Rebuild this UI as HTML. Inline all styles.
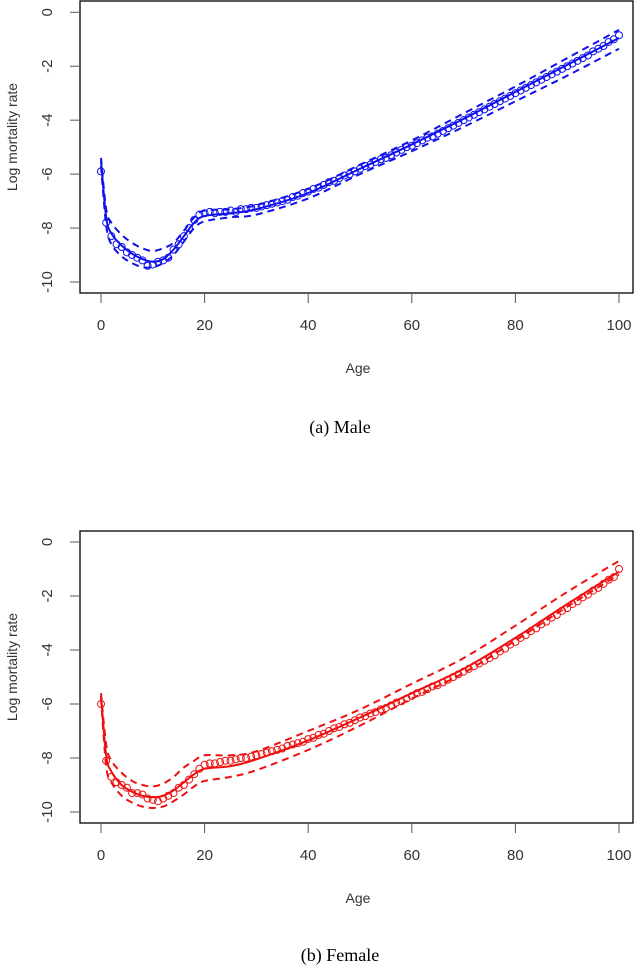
<!DOCTYPE html>
<html><head><meta charset="utf-8"><style>
body{margin:0;background:#fff;}
svg{display:block;font-family:"Liberation Sans",sans-serif;}
</style></head><body>
<svg id="s" width="640" height="967" viewBox="0 0 640 967"></svg>
<script>
const ages = Array.from({length:101},(_,i)=>i);
const maleObs = [-5.9,-7.8,-8.3,-8.6,-8.7,-8.9,-9.0,-9.1,-9.2,-9.4,-9.35,-9.25,-9.2,-9.1,-8.8,-8.6,-8.3,-8.0,-7.7,-7.5,-7.45,-7.4,-7.45,-7.4,-7.4,-7.35,-7.4,-7.3,-7.3,-7.25,-7.25,-7.2,-7.15,-7.1,-7.05,-7.0,-6.95,-6.85,-6.8,-6.7,-6.65,-6.55,-6.5,-6.4,-6.3,-6.25,-6.15,-6.05,-6.0,-5.9,-5.8,-5.7,-5.65,-5.55,-5.45,-5.4,-5.3,-5.2,-5.1,-5.0,-4.95,-4.85,-4.75,-4.65,-4.6,-4.5,-4.4,-4.3,-4.2,-4.1,-4.0,-3.9,-3.8,-3.7,-3.6,-3.5,-3.4,-3.3,-3.2,-3.1,-3.0,-2.9,-2.8,-2.7,-2.6,-2.5,-2.4,-2.3,-2.2,-2.1,-2.0,-1.9,-1.8,-1.7,-1.6,-1.45,-1.35,-1.25,-1.1,-1.0,-0.85];
const femaleObs = [-6.0,-8.1,-8.7,-8.9,-9.0,-9.1,-9.3,-9.3,-9.35,-9.5,-9.55,-9.6,-9.5,-9.4,-9.3,-9.1,-9.0,-8.8,-8.6,-8.4,-8.25,-8.2,-8.2,-8.15,-8.1,-8.1,-8.05,-8.0,-8.0,-7.95,-7.9,-7.85,-7.8,-7.75,-7.7,-7.65,-7.55,-7.5,-7.45,-7.4,-7.3,-7.25,-7.15,-7.1,-7.0,-6.9,-6.85,-6.75,-6.7,-6.6,-6.5,-6.45,-6.35,-6.3,-6.2,-6.15,-6.05,-5.95,-5.9,-5.8,-5.7,-5.6,-5.55,-5.45,-5.35,-5.3,-5.2,-5.1,-5.0,-4.9,-4.8,-4.7,-4.6,-4.5,-4.4,-4.3,-4.2,-4.05,-3.95,-3.8,-3.7,-3.55,-3.45,-3.3,-3.2,-3.05,-2.95,-2.8,-2.7,-2.55,-2.45,-2.3,-2.2,-2.05,-1.95,-1.8,-1.7,-1.55,-1.4,-1.3,-1.0];
const knotAges = [0,1,2,4,6,8,10,12,14,16,18,20,25,30,40,50,60,70,80,90,100];
const maleFit   = [-5.5,-7.6,-8.2,-8.65,-8.95,-9.15,-9.25,-9.15,-8.8,-8.3,-7.8,-7.55,-7.45,-7.3,-6.7,-5.8,-4.9,-3.95,-2.95,-1.95,-0.95];
const maleUpper = [-5.4,-7.3,-7.8,-8.25,-8.55,-8.75,-8.85,-8.75,-8.55,-8.1,-7.6,-7.35,-7.3,-7.15,-6.55,-5.65,-4.75,-3.75,-2.75,-1.7,-0.65];
const maleLower = [-5.7,-7.9,-8.6,-9.05,-9.3,-9.45,-9.45,-9.3,-9.0,-8.5,-8.0,-7.75,-7.6,-7.5,-6.9,-6.0,-5.15,-4.25,-3.3,-2.35,-1.35];
const femaleFit   = [-5.7,-7.9,-8.5,-9.0,-9.25,-9.4,-9.45,-9.4,-9.2,-8.9,-8.6,-8.4,-8.3,-8.05,-7.35,-6.5,-5.6,-4.7,-3.55,-2.3,-1.1];
const femaleUpper = [-5.6,-7.5,-8.1,-8.55,-8.85,-9.0,-9.05,-8.95,-8.7,-8.35,-8.1,-7.9,-7.9,-7.75,-7.0,-6.2,-5.25,-4.3,-3.1,-1.85,-0.7];
const femaleLower = [-5.8,-8.3,-8.9,-9.4,-9.65,-9.8,-9.85,-9.8,-9.6,-9.35,-9.05,-8.85,-8.7,-8.45,-7.7,-6.8,-5.8,-4.85,-3.65,-2.4,-1.2];
const yTicks = [0,-2,-4,-6,-8,-10];
const xTicks = [0,20,40,60,80,100];

const NS="http://www.w3.org/2000/svg";
const svg=document.getElementById('s');
function el(tag,attrs,parent){const e=document.createElementNS(NS,tag);for(const k in attrs)e.setAttribute(k,attrs[k]);(parent||svg).appendChild(e);return e;}
function smooth(pts){let d=`M${pts[0][0]},${pts[0][1]}`;for(let i=0;i<pts.length-1;i++){const p0=pts[Math.max(0,i-1)],p1=pts[i],p2=pts[i+1],p3=pts[Math.min(pts.length-1,i+2)];const c1=[p1[0]+(p2[0]-p0[0])/6,p1[1]+(p2[1]-p0[1])/6],c2=[p2[0]-(p3[0]-p1[0])/6,p2[1]-(p3[1]-p1[1])/6];d+=`C${c1[0]},${c1[1]} ${c2[0]},${c2[1]} ${p2[0]},${p2[1]}`;}return d;}

function panel(cfg){
  const g=el('g',{});
  
  
  const x=v=>101+v*5.18;
  const y=v=>cfg.y0-v*(cfg.y10-cfg.y0)/10;
  const box=el('rect',{x:80,y:cfg.top,width:553,height:cfg.bot-cfg.top,fill:'none',stroke:'#000','stroke-width':1.3},g);
  
  
  yTicks.forEach(t=>{
    el('line',{x1:70,x2:80,y1:y(t),y2:y(t),stroke:'#555','stroke-width':1},g);
    const tx=el('text',{x:52,y:y(t),transform:`rotate(-90 52 ${y(t)})`,'text-anchor':'middle','font-size':15,fill:'#333'},g);
    tx.textContent=t;
    
    
  });
  xTicks.forEach(t=>{
    el('line',{x1:x(t),x2:x(t),y1:cfg.bot,y2:cfg.bot+10,stroke:'#555','stroke-width':1},g);
    const tx=el('text',{x:x(t),y:cfg.bot+37,'text-anchor':'middle','font-size':15,fill:'#333'},g);
    tx.textContent=t;
    
    
  });
  const yl=el('text',{x:17,y:(cfg.top+cfg.bot)/2-10,transform:`rotate(-90 17 ${(cfg.top+cfg.bot)/2-10})`,'text-anchor':'middle','font-size':14,fill:'#333'},g);
  yl.textContent='Log mortality rate';
  
  
  const xl=el('text',{x:358,y:cfg.bot+80,'text-anchor':'middle','font-size':14,fill:'#333'},g);
  xl.textContent='Age';
  
  
  const cap=el('text',{x:340,y:cfg.cap,'text-anchor':'middle','font-size':18,fill:'#000','font-family':'Liberation Serif, serif'},g);
  cap.textContent=cfg.caption;
  
  
  const mk=arr=>knotAges.map((a,i)=>[x(a),y(arr[i])]);
  const fl=el('path',{d:smooth(mk(cfg.fit)),fill:'none',stroke:cfg.col,'stroke-width':2},g);
  
  
  [cfg.up,cfg.lo].forEach((arr,k)=>{
    const p=el('path',{d:smooth(mk(arr)),fill:'none',stroke:cfg.col,'stroke-width':2,'stroke-dasharray':'7 5'},g);
    
    
  });
  cfg.obs.forEach((v,i)=>{
    const c=el('circle',{cx:x(ages[i]),cy:y(v),r:3.5,fill:'none',stroke:cfg.col,'stroke-width':1},g);
    
    
  });
}
panel({name:'male-panel',top:1,bot:293,y0:12.3,y10:282,col:'#1010ee',fit:maleFit,up:maleUpper,lo:maleLower,obs:maleObs,caption:'(a) Male',cap:433});
panel({name:'female-panel',top:531,bot:823,y0:542,y10:812,col:'#ee1010',fit:femaleFit,up:femaleUpper,lo:femaleLower,obs:femaleObs,caption:'(b) Female',cap:961});
</script>
</body></html>
